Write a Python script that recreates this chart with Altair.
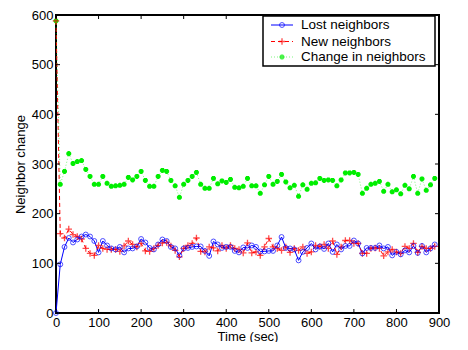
import altair as alt
import pandas as pd

time = [0, 10, 20, 30, 40, 50, 60, 70, 80, 90,
        100, 110, 120, 130, 140, 150, 160, 170, 180, 190,
        200, 210, 220, 230, 240, 250, 260, 270, 280, 290,
        300, 310, 320, 330, 340, 350, 360, 370, 380, 390,
        400, 410, 420, 430, 440, 450, 460, 470, 480, 490,
        500, 510, 520, 530, 540, 550, 560, 570, 580, 590,
        600, 610, 620, 630, 640, 650, 660, 670, 680, 690,
        700, 710, 720, 730, 740, 750, 760, 770, 780, 790,
        800, 810, 820, 830, 840, 850, 860, 870, 880, 890]

lost = [0, 98, 133, 151, 142, 148, 154, 158, 154, 145,
        122, 145, 136, 130, 128, 133, 122, 130, 130, 134,
        149, 142, 131, 128, 138, 148, 145, 133, 130, 116,
        130, 131, 133, 134, 134, 125, 115, 144, 138, 131,
        133, 133, 125, 122, 132, 131, 136, 133, 124, 124,
        125, 125, 136, 153, 131, 130, 128, 106, 123, 131,
        140, 128, 134, 129, 140, 123, 138, 128, 135, 135,
        146, 140, 120, 131, 131, 131, 136, 130, 133, 116,
        123, 118, 126, 122, 135, 121, 135, 122, 130, 138]

new = [588, 160, 151, 169, 158, 154, 149, 130, 120, 116,
       136, 130, 128, 128, 128, 124, 135, 145, 138, 133,
       140, 125, 124, 130, 136, 141, 142, 135, 126, 113,
       130, 136, 140, 151, 124, 123, 133, 131, 125, 136,
       130, 136, 130, 128, 121, 141, 121, 123, 116, 133,
       150, 133, 130, 126, 133, 122, 130, 126, 133, 120,
       123, 136, 134, 138, 130, 145, 118, 133, 146, 146,
       140, 140, 120, 120, 130, 131, 130, 115, 123, 128,
       123, 120, 134, 130, 140, 122, 134, 130, 130, 134]

change = [588, 259, 285, 321, 301, 305, 307, 289, 275, 259,
          259, 275, 261, 255, 256, 257, 259, 273, 268, 275,
          285, 267, 255, 255, 275, 287, 285, 267, 256, 233,
          259, 267, 275, 283, 259, 251, 251, 271, 260, 266,
          263, 269, 253, 252, 255, 271, 256, 256, 241, 258,
          275, 259, 265, 279, 264, 252, 257, 235, 258, 249,
          261, 262, 271, 267, 268, 267, 256, 268, 282, 282,
          283, 279, 241, 251, 259, 261, 265, 245, 259, 244,
          248, 240, 257, 250, 275, 241, 270, 247, 258, 271]

x_ticks = [0, 100, 200, 300, 400, 500, 600, 700, 800, 900]
y_ticks = [0, 100, 200, 300, 400, 500, 600]

series_names = ["Lost neighbors", "New neighbors", "Change in neighbors"]

W, H = 383, 298
FONT = "Liberation Sans"

df = pd.DataFrame({"time": time, "lost": lost, "new": new, "change": change})

xs = alt.Scale(domain=[0, 900], nice=False, zero=False)
ys = alt.Scale(domain=[0, 600], nice=False)

xax = alt.Axis(values=x_ticks, ticks=False, domain=False, grid=False, labelFont=FONT,
               labelFontSize=13, labelColor="black", labelPadding=3, title="Time (sec)",
               titleFont=FONT, titleFontSize=13, titleFontWeight="normal", titleColor="black",
               titlePadding=1, labelFlush=False)
yax = alt.Axis(values=y_ticks, ticks=False, domain=False, grid=False, labelFont=FONT,
               labelFontSize=13, labelColor="black", labelPadding=3, title="Neighbor change",
               titleFont=FONT, titleFontSize=13, titleFontWeight="normal", titleColor="black",
               titlePadding=4, labelFlush=False)

base = alt.Chart(df)

plus_path = "M-1,0L1,0M0,-1L0,1"
star_path = "M-1,0L1,0M0,-1L0,1M-0.7,-0.7L0.7,0.7M-0.7,0.7L0.7,-0.7"

GREEN = "#00ee00"

lost_line = base.mark_line(color="#0000ff", strokeWidth=1).encode(
    x=alt.X("time:Q", scale=xs, axis=xax), y=alt.Y("lost:Q", scale=ys, axis=yax))
lost_pts = base.mark_point(shape="circle", color="#0000ff", filled=False, size=24, strokeWidth=1).encode(
    x=alt.X("time:Q", scale=xs), y=alt.Y("lost:Q", scale=ys))
new_line = base.mark_line(color="#ff0000", strokeWidth=1, strokeDash=[4, 3]).encode(
    x=alt.X("time:Q", scale=xs), y=alt.Y("new:Q", scale=ys))
new_pts = base.mark_point(shape=plus_path, color="#ff0000", filled=False, size=42, strokeWidth=1.3).encode(
    x=alt.X("time:Q", scale=xs), y=alt.Y("new:Q", scale=ys))
chg_line = base.mark_line(color=GREEN, strokeWidth=1, strokeDash=[1, 2], opacity=0.5).encode(
    x=alt.X("time:Q", scale=xs), y=alt.Y("change:Q", scale=ys))
chg_pts = base.mark_point(shape=star_path, color=GREEN, filled=False, size=25, strokeWidth=1.8, opacity=1).encode(
    x=alt.X("time:Q", scale=xs), y=alt.Y("change:Q", scale=ys))

# inward ticks
xt = alt.Chart(pd.DataFrame({"t": x_ticks}))
yt = alt.Chart(pd.DataFrame({"t": y_ticks}))
TL = 4
xt_bot = xt.mark_rule(color="black", strokeWidth=1).encode(
    x=alt.X("t:Q", scale=xs), y=alt.value(H), y2=alt.value(H - TL))
xt_top = xt.mark_rule(color="black", strokeWidth=1).encode(
    x=alt.X("t:Q", scale=xs), y=alt.value(0), y2=alt.value(TL))
yt_l = yt.mark_rule(color="black", strokeWidth=1).encode(
    y=alt.Y("t:Q", scale=ys), x=alt.value(0), x2=alt.value(TL))
yt_r = yt.mark_rule(color="black", strokeWidth=1).encode(
    y=alt.Y("t:Q", scale=ys), x=alt.value(W), x2=alt.value(W - TL))

# manual legend
LX0, LX1, LY0, LY1 = 207, 379, 1, 51
leg_box = alt.Chart(pd.DataFrame({"a": [0]})).mark_rect(
    fill="white", stroke="black", strokeWidth=1.5).encode(
    x=alt.value(LX0), x2=alt.value(LX1), y=alt.value(LY0), y2=alt.value(LY1))
rows = [10, 26.5, 42]
legend_parts = []
styles = [
    dict(color="#0000ff", dash=[1, 0], shape="circle", size=24, sw=1, op=1),
    dict(color="#ff0000", dash=[4, 3], shape=plus_path, size=42, sw=1.3, op=1),
    dict(color=GREEN, dash=[1, 2], shape=star_path, size=25, sw=1.8, op=0.5),
]
for i, st in enumerate(styles):
    one = alt.Chart(pd.DataFrame({"name": [series_names[i]]}))
    legend_parts.append(one.mark_rule(color=st["color"], strokeWidth=1, strokeDash=st["dash"], opacity=st["op"]).encode(
        x=alt.value(215), x2=alt.value(237), y=alt.value(rows[i])))
    legend_parts.append(one.mark_point(shape=st["shape"], color=st["color"], filled=False,
                                       size=st["size"], strokeWidth=st["sw"]).encode(
        x=alt.value(226), y=alt.value(rows[i])))
    legend_parts.append(one.mark_text(align="left", baseline="middle", font=FONT, fontSize=13.5, color="black").encode(
        x=alt.value(245), y=alt.value(rows[i]), text="name:N"))

chart = alt.layer(
    lost_line, new_line, chg_line, chg_pts, new_pts, lost_pts,
    xt_bot, xt_top, yt_l, yt_r, leg_box, *legend_parts
).properties(
    width=W, height=H,
    autosize=alt.AutoSizeParams(type="none"),
    padding={"left": 48, "top": 7, "right": 21, "bottom": 29},
    background="white",
).configure_view(stroke="black", strokeWidth=2)

chart.save("out.html", embed_options={"renderer": "svg", "actions": False})
